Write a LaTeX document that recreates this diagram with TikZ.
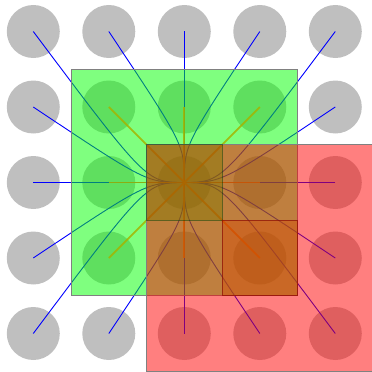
\documentclass[tikz,border=0pt]{standalone}
\usetikzlibrary{calc}
\definecolor{yel}{RGB}{165,180,0}
\definecolor{olivefill}{RGB}{128,120,0}
\definecolor{rustfill}{RGB}{215,70,0}
\begin{document}
\begin{tikzpicture}[x=75.5pt,y=-75.5pt,
  dot/.style={circle,fill=gray!50,minimum size=53pt,inner sep=0pt},
  ray/.style={draw=blue,line width=0.9pt},
  spoke/.style={draw=yel,line width=1.8pt,draw opacity=0.85},
  greensq/.style={fill=green,fill opacity=0.5,draw=gray,line width=0.9pt},
  redsq/.style={fill=red,fill opacity=0.5,draw=gray,line width=0.9pt},
  centersq/.style={fill=olivefill,fill opacity=0.45,draw=green!25!black,draw opacity=0.5,line width=0.9pt},
  cornersq/.style={fill=rustfill,fill opacity=0.4,draw=red!50!black,draw opacity=0.6,line width=0.9pt}]
\useasboundingbox (-2.441,-2.4172) rectangle (2.486,2.5099);
% grid of circles
\foreach \i in {1,...,5}{
  \foreach \j in {1,...,5}{
    \node[dot] (c\i\j) at (\i-3,\j-3) {};
  }
}
% control points for the curved rays
\coordinate (kL) at (-0.5,0);
\coordinate (kR) at (0.5,0);
\coordinate (kU) at (0,-0.5);
\coordinate (kD) at (0,0.5);
% straight blue rays
\foreach \n in {c31,c53,c35,c13}{
  \draw[ray] (\n.center) -- (c33.center);
}
% curved blue rays from the outer ring to the centre
\foreach \n/\k in {c11/kL,c21/kU,c41/kU,c51/kR,c52/kR,c54/kR,
                   c55/kR,c45/kD,c25/kD,c15/kL,c14/kL,c12/kL}{
  \draw[ray] (\n.center) .. controls (\k) and (\k) .. (c33.center);
}
% green square
\path[greensq] (-1.5,-1.5) rectangle (1.5,1.5);
% yellow spokes to the inner ring
\foreach \n in {c22,c32,c42,c23,c43,c24,c34,c44}{
  \draw[spoke] (c33.center) -- (\n.center);
}
% red square
\path[redsq] (-0.5,-0.5) rectangle (2.5,2.5);
% highlighted cells
\path[centersq] (-0.5,-0.5) rectangle (0.5,0.5);
\path[cornersq] (0.5,0.5) rectangle (1.5,1.5);
\end{tikzpicture}
\end{document}
